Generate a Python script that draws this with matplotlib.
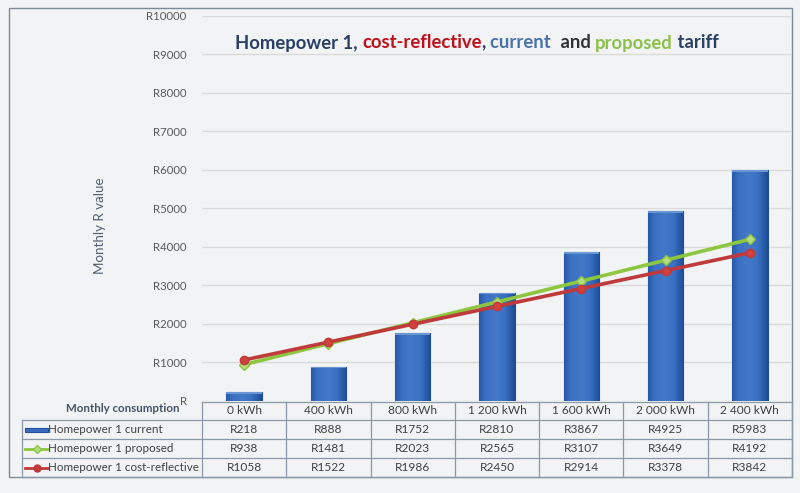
import numpy as np
import matplotlib
matplotlib.use("Agg")
import matplotlib.pyplot as plt
from matplotlib.patches import Rectangle
from matplotlib.lines import Line2D
from matplotlib.ticker import FuncFormatter

plt.rcParams['font.family'] = ['Lato', 'DejaVu Sans']

# --- data ---
categories = ["0 kWh", "400 kWh", "800 kWh", "1 200 kWh", "1 600 kWh", "2 000 kWh", "2 400 kWh"]
current = [218, 888, 1752, 2810, 3867, 4925, 5983]
proposed = [938, 1481, 2023, 2565, 3107, 3649, 4192]
cost_reflective = [1058, 1522, 1986, 2450, 2914, 3378, 3842]
series_names = ["Homepower 1 current", "Homepower 1 proposed", "Homepower 1 cost-reflective"]
title_parts = [("Homepower 1, ", "#2a3f66"), ("cost-reflective", "#c0101a"), (", ", "#2a3f66"),
               ("current ", "#4a72aa"), (" and ", "#333333"), ("proposed", "#8cc04a"),
               (" tariff", "#2a3f66")]

BG = '#f2f3f4'
BAR = '#3a6cbf'
BAR_DARK = '#1f4f9a'
GREEN = '#8dc63f'
RED = '#c0393b'
W, H = 800, 493

fig = plt.figure(figsize=(8, 4.93), dpi=100, facecolor=BG)

# overlay in pixel coords for frame + data table
ov = fig.add_axes([0, 0, 1, 1], zorder=0)
ov.set_xlim(0, W)
ov.set_ylim(H, 0)
ov.axis('off')

# plot area (pixels)
px_l, px_r, px_t, px_b = 202, 792, 15.7, 400.7
ax = fig.add_axes([px_l / W, 1 - px_b / H, (px_r - px_l) / W, (px_b - px_t) / H], zorder=1)
ax.patch.set_alpha(0)
for s in ax.spines.values():
    s.set_visible(False)

x = np.arange(len(categories))
ax.set_xlim(-0.5, len(categories) - 0.5)
ax.set_ylim(0, 10000)
ax.set_yticks(np.arange(0, 10001, 1000))
ax.yaxis.set_major_formatter(FuncFormatter(lambda v, p: "R" if v == 0 else f"R{int(v)}"))
ax.tick_params(axis='y', length=0, pad=11, labelsize=8.2, labelcolor='#595959')
ax.set_xticks([])
ax.grid(axis='y', color='#dadada', linewidth=1)
ax.set_axisbelow(True)

# bars with a horizontal gradient
bars = ax.bar(x, current, width=0.42, color=BAR, edgecolor=BAR_DARK, linewidth=0.8, zorder=2)
grad = np.linspace(0, 1, 64)
grad = 1 - np.abs(grad - 0.45) * 1.6
grad = np.tile(grad, (2, 1))
cmap = matplotlib.colors.LinearSegmentedColormap.from_list('b', ['#1d4c95', '#3a70c2', '#4479c8'])
for b in bars:
    x0, w, h = b.get_x(), b.get_width(), b.get_height()
    im = ax.imshow(grad, extent=[x0, x0 + w, 0, h], aspect='auto', cmap=cmap, zorder=2.1,
                   interpolation='bicubic')
    im.set_clip_path(b)
    ax.add_patch(Rectangle((x0, h - 50), w, 50, facecolor='#6a96d4', edgecolor='none', zorder=2.2))

ax.plot(x, proposed, color=GREEN, lw=2.6, marker='D', ms=5, mfc='#b5dc7e', mec=GREEN, zorder=3)
ax.plot(x, cost_reflective, color=RED, lw=2.6, marker='o', ms=6, mfc='#d0403c', mec=RED, zorder=3)

# outer frame
ov.add_patch(Rectangle((9, 8), 783, 469, fill=False, edgecolor='#7d8a98', lw=1))

# data table
col_w = (px_r - px_l) / len(categories)
rows_y = [401.5, 420, 439, 458, 477]
lc = '#8a98a8'
ov.plot([px_l, px_r], [rows_y[0]] * 2, color=lc, lw=0.9)
for yy in rows_y[1:]:
    ov.plot([22, px_r], [yy, yy], color=lc, lw=0.9)
ov.plot([22, 22], [rows_y[1], rows_y[-1]], color=lc, lw=0.9)
for i in range(len(categories) + 1):
    xx = px_l + i * col_w
    ov.plot([xx, xx], [rows_y[0], rows_y[-1]], color=lc, lw=0.9)

tc = '#404040'
fs = 8.6
ov.text(180, 408.5, "Monthly consumption", ha='right', va='center', fontsize=8.3,
        fontweight='bold', color='#44546a')
for i, c in enumerate(categories):
    cx = px_l + (i + 0.5) * col_w
    ov.text(cx, 411, c, ha='center', va='center', fontsize=fs, color=tc)
    for r, vals in enumerate([current, proposed, cost_reflective]):
        cy = (rows_y[r + 1] + rows_y[r + 2]) / 2
        ov.text(cx, cy, f"R{vals[i]}", ha='center', va='center', fontsize=fs, color=tc)

for r, name in enumerate(series_names):
    cy = (rows_y[r + 1] + rows_y[r + 2]) / 2
    ov.text(48.5, cy, name, ha='left', va='center', fontsize=8.35, color=tc)
ov.add_patch(Rectangle((25, 427.5), 23, 4.5, facecolor=BAR, edgecolor=BAR_DARK, lw=0.8))
cy = (rows_y[2] + rows_y[3]) / 2
ov.add_line(Line2D([25, 48], [cy, cy], color=GREEN, lw=2))
ov.add_line(Line2D([36.5], [cy], marker='D', ms=4, color=GREEN, mfc='#b5dc7e'))
cy = (rows_y[3] + rows_y[4]) / 2
ov.add_line(Line2D([25, 48], [cy, cy], color=RED, lw=2))
ov.add_line(Line2D([36.5], [cy], marker='o', ms=5, color=RED))

# axis title
ov.text(100, 226, "Monthly R value", rotation=90, ha='center', va='center', fontsize=9.6,
        color='#4f5f75')

# multi-coloured chart title
renderer = fig.canvas.get_renderer()
tx = 235
for txt, col in title_parts:
    t = ov.text(tx, 43, txt, ha='left', va='center', fontsize=13.3, fontweight='bold', color=col)
    bb = t.get_window_extent(renderer=renderer)
    tx += bb.width

fig.savefig("out.png", dpi=100, facecolor=BG)
